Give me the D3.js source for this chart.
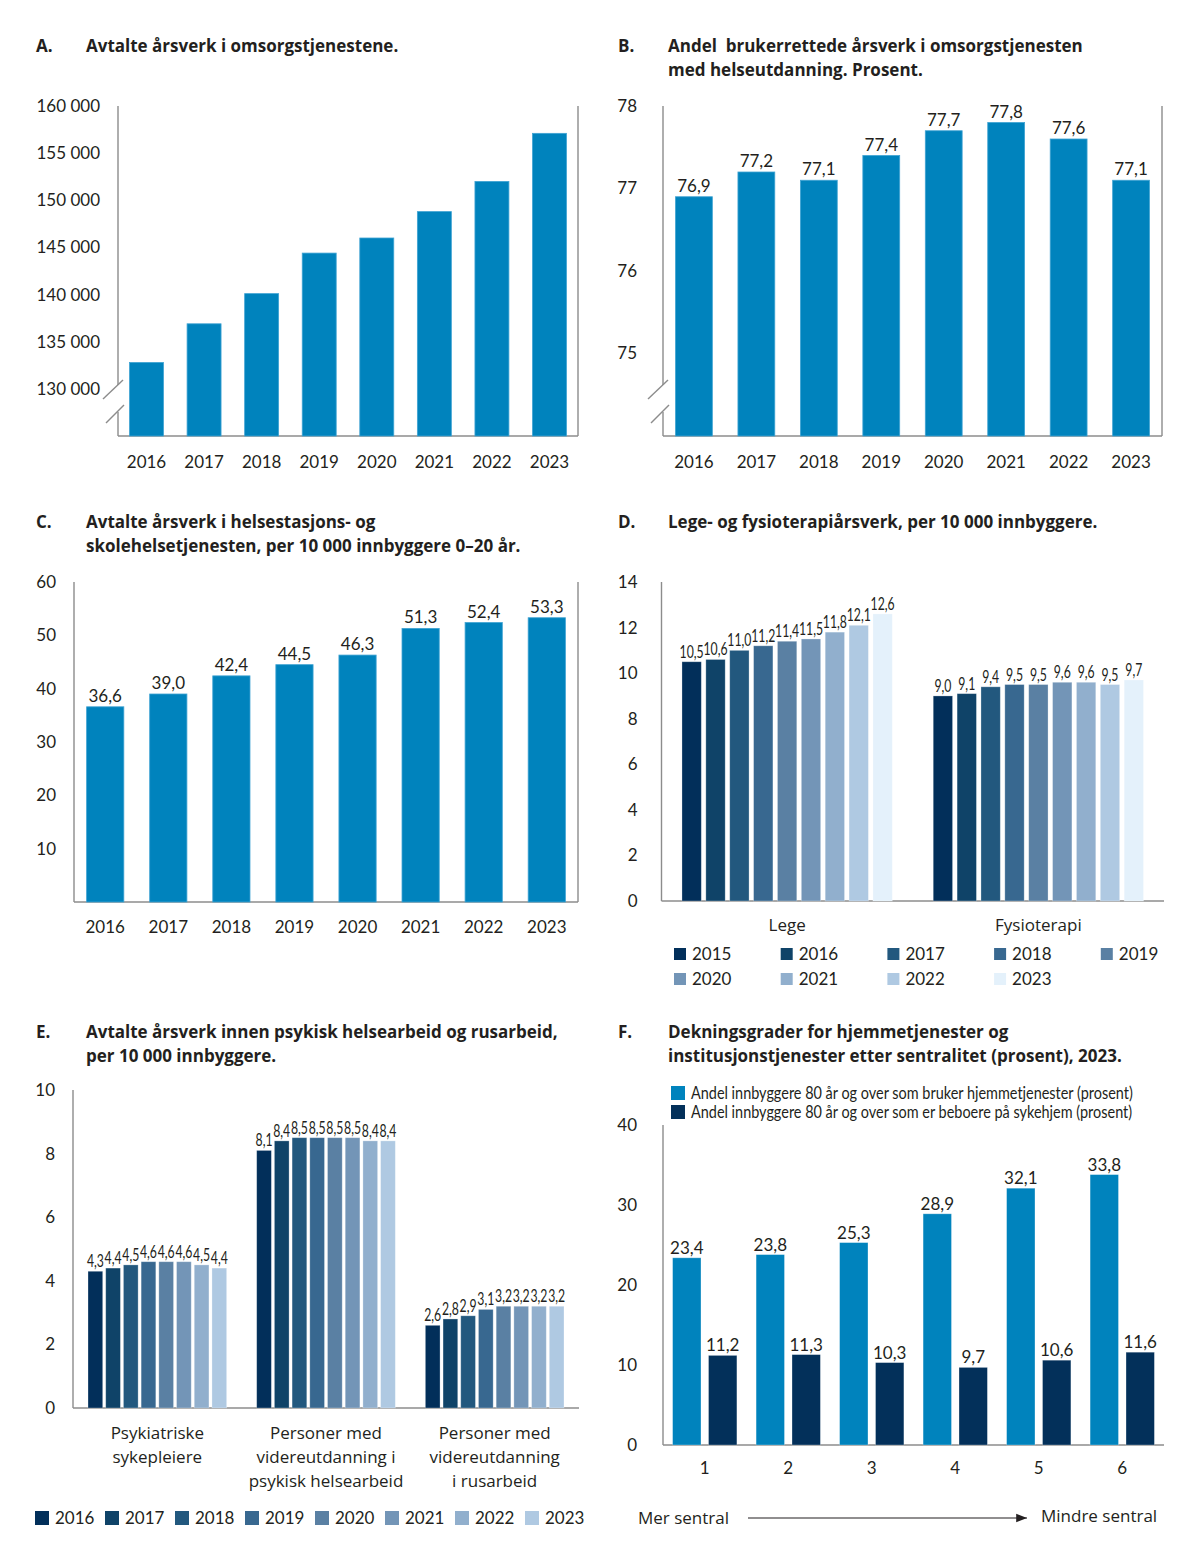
<!DOCTYPE html>
<html>
<head>
<meta charset="utf-8">
<script src="https://cdn.jsdelivr.net/npm/d3@7"></script>
<style>
body { margin: 0; background: #fff; }
svg text { font-family: Lato, "Open Sans", sans-serif; fill: #231f20; }
.ttl { font-family: "Open Sans", sans-serif !important; font-weight: bold; font-size: 17px; white-space: pre; }
.tick text { font-size: 17px; }
.val { font-size: 17px; text-anchor: middle; }
.val-s { font-size: 17px; text-anchor: middle; }
.lg { font-size: 17px; }
.lg-s { font-size: 17px; }
svg .word, svg .word text { font-family: "Open Sans", sans-serif; font-size: 17px; }
</style>
</head>
<body>
<svg id="chart" width="1200" height="1563"></svg>
<script>
// ---- data ----
var years = ['2016', '2017', '2018', '2019', '2020', '2021', '2022', '2023'];
var yearsD = ['2015', '2016', '2017', '2018', '2019', '2020', '2021', '2022', '2023'];

// A. avtalte årsverk i omsorgstjenestene
var aValues = [132800, 136900, 140100, 144400, 146000, 148800, 152000, 157100];
var aTicks = [130000, 135000, 140000, 145000, 150000, 155000, 160000];

// B. andel brukerrettede årsverk med helseutdanning
var bValues = [76.9, 77.2, 77.1, 77.4, 77.7, 77.8, 77.6, 77.1];
var bTicks = [75, 76, 77, 78];

// C. helsestasjon og skolehelsetjeneste
var cValues = [36.6, 39.0, 42.4, 44.5, 46.3, 51.3, 52.4, 53.3];
var cTicks = [10, 20, 30, 40, 50, 60];

// D. lege og fysioterapi
var dGroups = ['Lege', 'Fysioterapi'];
var dLege = [10.5, 10.6, 11.0, 11.2, 11.4, 11.5, 11.8, 12.1, 12.6];
var dFysio = [9.0, 9.1, 9.4, 9.5, 9.5, 9.6, 9.6, 9.5, 9.7];
var dTicks = [0, 2, 4, 6, 8, 10, 12, 14];

// E. psykisk helse og rus
var eGroups = ['Psykiatriske sykepleiere', 'Personer med videreutdanning i psykisk helsearbeid', 'Personer med videreutdanning i rusarbeid'];
var eLines = [['Psykiatriske', 'sykepleiere'], ['Personer med', 'videreutdanning i', 'psykisk helsearbeid'], ['Personer med', 'videreutdanning', 'i rusarbeid']];
var ePsyk = [4.3, 4.4, 4.5, 4.6, 4.6, 4.6, 4.5, 4.4];
var eVidPsyk = [8.1, 8.4, 8.5, 8.5, 8.5, 8.5, 8.4, 8.4];
var eVidRus = [2.6, 2.8, 2.9, 3.1, 3.2, 3.2, 3.2, 3.2];
var eTicks = [0, 2, 4, 6, 8, 10];

// F. dekningsgrader etter sentralitet
var fGroups = ['1', '2', '3', '4', '5', '6'];
var fSeries = ['Andel innbyggere 80 år og over som bruker hjemmetjenester (prosent)',
    'Andel innbyggere 80 år og over som er beboere på sykehjem (prosent)'];
var fHjemme = [23.4, 23.8, 25.3, 28.9, 32.1, 33.8];
var fSykehjem = [11.2, 11.3, 10.3, 9.7, 10.6, 11.6];
var fTicks = [0, 10, 20, 30, 40];

var blue = '#0083bd';
var navy = '#03305a';
var yearColors = ['#022f5a', '#0f4368', '#22587e', '#386890', '#5a80a3', '#7395b7', '#91afcd', '#afc9e2', '#e4f1fb'];
var axisColor = '#8c8c8c';

var no = d3.formatLocale({ decimal: ',', thousands: ' ', grouping: [3], currency: ['', ' kr'] });
var fmtInt = no.format(',d');
var fmt1 = no.format('.1f');

var svg = d3.select('#chart');

// panel heading: letter + one or two lines
function heading(letter, lines, x, y) {
    svg.append('text').attr('class', 'ttl').attr('x', x).attr('y', y).text(letter);
    lines.forEach(function (l, i) {
        svg.append('text').attr('class', 'ttl').attr('x', x + 50).attr('y', y + i * 24).text(l);
    });
}

// y scale, tick labels and frame lines
function frame(p) {
    var g = svg.append('g');
    var y = d3.scaleLinear().domain(p.domain).range([p.bottom, p.top]);

    g.append('g')
        .attr('transform', 'translate(' + p.left + ',0)')
        .call(d3.axisLeft(y).tickValues(p.ticks).tickFormat(p.fmt).tickSize(0).tickPadding(p.pad))
        .call(function (a) {
            a.select('.domain').remove();
            a.attr('font-size', null).attr('font-family', null);
        });

    var y0 = y(p.domain[0]), y1 = y(p.domain[1]);
    var line = function (x1, ya, x2, yb) {
        g.append('line').attr('x1', x1).attr('y1', ya).attr('x2', x2).attr('y2', yb)
            .attr('stroke', axisColor).attr('stroke-width', 1.4);
    };
    if (p.cut) {
        // broken axis: gap with two slashes
        line(p.left, y1, p.left, y0 - 51);
        line(p.left, y0 - 24, p.left, y0);
        line(p.left - 15, y0 - 37, p.left + 5, y0 - 56);
        line(p.left - 12, y0 - 13, p.left + 6, y0 - 31);
    } else {
        line(p.left, y1, p.left, y0);
    }
    if (p.rightLine) line(p.right, y1, p.right, y0);
    line(p.left, y0, p.right, y0);
    return { g: g, y: y };
}

function xLabels(g, x, p, cls) {
    g.append('g')
        .attr('class', cls || null)
        .attr('transform', 'translate(0,' + p.bottom + ')')
        .call(d3.axisBottom(x).tickSize(0).tickPadding(p.xpad))
        .call(function (a) {
            a.select('.domain').remove();
            a.attr('font-size', null).attr('font-family', null);
        });
}

/////////////// single series bars ///////////////
function simpleBars(p, cats, values, showVals) {
    var c = frame(p);
    var x = d3.scaleBand().domain(cats).range([p.left, p.right]).paddingInner(0.41).paddingOuter(0.2);
    c.g.selectAll('rect.bar').data(values).enter().append('rect')
        .attr('x', function (d, i) { return x(cats[i]); })
        .attr('width', x.bandwidth())
        .attr('y', function (d) { return c.y(d); })
        .attr('height', function (d) { return c.y(p.domain[0]) - c.y(d); })
        .attr('fill', blue)
        .attr('stroke', '#3fa3d3').attr('stroke-width', 0.8);
    if (showVals) {
        c.g.selectAll('text.val').data(values).enter().append('text')
            .attr('class', 'val')
            .attr('x', function (d, i) { return x(cats[i]) + x.bandwidth() / 2; })
            .attr('y', function (d) { return c.y(d) - 5; })
            .text(function (d) { return fmt1(d); });
    }
    xLabels(c.g, x, p);
}

/////////////// grouped bars ///////////////
function groupBars(p, groups, keys, table, colors, valClass, outerPad, innerPad) {
    var c = frame(p);
    var x0 = d3.scaleBand().domain(groups).range([p.left, p.right]).paddingInner(outerPad).paddingOuter(outerPad / 2);
    var x1 = d3.scaleBand().domain(keys).range([0, x0.bandwidth()]).paddingInner(innerPad);
    var squeeze = valClass == 'val-s' ? 0.72 : 1; // narrow labels like the condensed original

    var gg = c.g.selectAll('g.grp').data(table).enter().append('g')
        .attr('transform', function (d, i) { return 'translate(' + x0(groups[i]) + ',0)'; });
    gg.selectAll('rect').data(function (d) { return d; }).enter().append('rect')
        .attr('x', function (d, i) { return x1(keys[i]); })
        .attr('width', x1.bandwidth())
        .attr('y', function (d) { return c.y(d); })
        .attr('height', function (d) { return c.y(0) - c.y(d); })
        .attr('fill', function (d, i) { return colors[i]; })
        .attr('stroke', 'rgba(255,255,255,0.35)').attr('stroke-width', 0.8);
    gg.selectAll('text').data(function (d) { return d; }).enter().append('text')
        .attr('class', valClass)
        .attr('transform', function (d, i) {
            return 'translate(' + (x1(keys[i]) + x1.bandwidth() / 2) + ',' + (c.y(d) - 4) + ') scale(' + squeeze + ',1)';
        })
        .text(function (d) { return fmt1(d); });
    return { g: c.g, x: x0, y: c.y };
}

function legend(keys, colors, x, y, colW, rowH, perRow, size, cls, squeeze) {
    var lg = svg.append('g');
    keys.forEach(function (k, i) {
        var cx = x + (i % perRow) * colW, cy = y + Math.floor(i / perRow) * rowH;
        lg.append('rect').attr('x', cx).attr('y', cy - size / 2).attr('width', size).attr('height', size)
            .attr('fill', colors[i]);
        lg.append('text').attr('class', cls)
            .attr('transform', 'translate(' + (cx + size + 6) + ',' + cy + ') scale(' + (squeeze || 1) + ',1)')
            .attr('dy', '0.35em').text(k);
    });
}

// ---------------- A ----------------
heading('A.', ['Avtalte årsverk i omsorgstjenestene.'], 36, 52);
simpleBars({ left: 118, right: 578, top: 106, bottom: 436, domain: [125000, 160000], ticks: aTicks,
    fmt: fmtInt, pad: 18, xpad: 20, rightLine: true, cut: true }, years, aValues, false);

// ---------------- B ----------------
heading('B.', ['Andel  brukerrettede årsverk i omsorgstjenesten', 'med helseutdanning. Prosent.'], 618, 52);
simpleBars({ left: 663, right: 1162, top: 106, bottom: 436, domain: [74, 78], ticks: bTicks,
    fmt: d3.format('d'), pad: 26, xpad: 20, rightLine: true, cut: true }, years, bValues, true);

// ---------------- C ----------------
heading('C.', ['Avtalte årsverk i helsestasjons- og', 'skolehelsetjenesten, per 10 000 innbyggere 0–20 år.'], 36, 528);
simpleBars({ left: 74, right: 578, top: 582, bottom: 902, domain: [0, 60], ticks: cTicks,
    fmt: d3.format('d'), pad: 18, xpad: 19, rightLine: true, cut: false }, years, cValues, true);

// ---------------- D ----------------
heading('D.', ['Lege- og fysioterapiårsverk, per 10 000 innbyggere.'], 618, 528);
var dp = { left: 661.5, right: 1164, top: 582, bottom: 901, domain: [0, 14], ticks: dTicks,
    fmt: d3.format('d'), pad: 24, xpad: 18 };
var dChart = groupBars(dp, dGroups, yearsD, [dLege, dFysio], yearColors, 'val-s', 0.163, 0.19);
xLabels(dChart.g, dChart.x, dp, 'word');
legend(yearsD, yearColors, 674, 954, 106.7, 25, 5, 12, 'lg');

// ---------------- E ----------------
heading('E.', ['Avtalte årsverk innen psykisk helsearbeid og rusarbeid,', 'per 10 000 innbyggere.'], 36, 1038);
var ep = { left: 73, right: 579, top: 1090, bottom: 1408, domain: [0, 10], ticks: eTicks,
    fmt: d3.format('d'), pad: 18 };
var eChart = groupBars(ep, eGroups, years, [ePsyk, eVidPsyk, eVidRus], yearColors, 'val-s', 0.178, 0.17);
eGroups.forEach(function (gname, i) {
    var t = eChart.g.append('text').attr('class', 'word').attr('text-anchor', 'middle')
        .attr('x', eChart.x(gname) + eChart.x.bandwidth() / 2).attr('y', 1439);
    eLines[i].forEach(function (l, j) {
        t.append('tspan').attr('x', eChart.x(gname) + eChart.x.bandwidth() / 2).attr('dy', j ? 24 : 0).text(l);
    });
});
legend(years, yearColors, 35, 1518, 70, 0, 8, 14, 'lg');

// ---------------- F ----------------
heading('F.', ['Dekningsgrader for hjemmetjenester og', 'institusjonstjenester etter sentralitet (prosent), 2023.'], 618, 1038);
var fp = { left: 663, right: 1164, top: 1125, bottom: 1445, domain: [0, 40], ticks: fTicks,
    fmt: d3.format('d'), pad: 26, xpad: 17 };
var fTable = fGroups.map(function (g, i) { return [fHjemme[i], fSykehjem[i]]; });
var fChart = groupBars(fp, fGroups, fSeries, fTable, [blue, navy], 'val', 0.23, 0.21);
xLabels(fChart.g, fChart.x, fp);
legend(fSeries, [blue, navy], 671, 1093, 0, 19, 1, 14, 'lg-s', 0.85);

// sentralitet arrow
svg.append('defs').append('marker').attr('id', 'arr')
    .attr('viewBox', '0 0 10 10').attr('refX', 10).attr('refY', 5)
    .attr('markerWidth', 9).attr('markerHeight', 9).attr('orient', 'auto')
    .append('path').attr('d', 'M0,1L10,5L0,9Z').attr('fill', '#231f20');
svg.append('text').attr('class', 'word').attr('x', 638).attr('y', 1524).text('Mer sentral');
svg.append('line').attr('x1', 748).attr('y1', 1518).attr('x2', 1027).attr('y2', 1518)
    .attr('stroke', '#231f20').attr('stroke-width', 1.2).attr('marker-end', 'url(#arr)');
svg.append('text').attr('class', 'word').attr('x', 1041).attr('y', 1522).text('Mindre sentral');
</script>
</body>
</html>
